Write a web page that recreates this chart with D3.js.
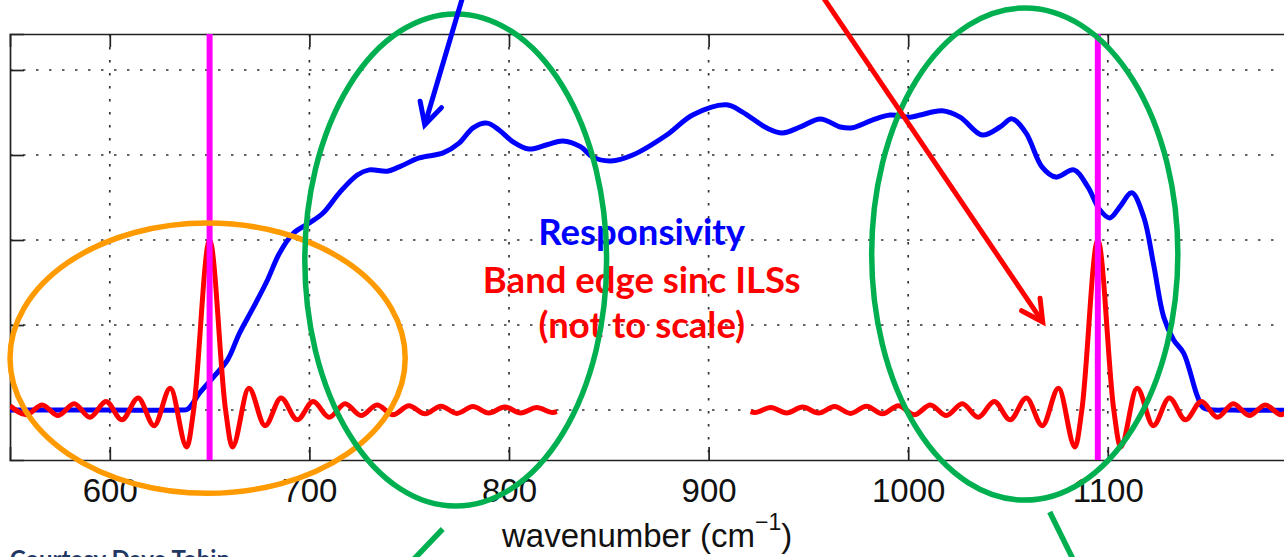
<!DOCTYPE html>
<html>
<head>
<meta charset="utf-8">
<script src="https://cdn.jsdelivr.net/npm/d3@7"></script>
<style>
  html, body { margin: 0; padding: 0; background: #ffffff; overflow: hidden; }
  svg { display: block; }
</style>
</head>
<body>
<svg id="chart" width="1284" height="557"></svg>
<script>
// ---------------- data ----------------
const xTickValues = [600, 700, 800, 900, 1000, 1100];
const yTickValues = [0, 0.2, 0.4, 0.6, 0.8];
const bandEdges = [650, 1095];

// responsivity (blue)
const respWavenumber = [550, 600, 635, 639, 645, 652, 659, 665, 672, 679, 685, 692, 700, 707, 715, 724, 730, 739, 745, 755, 767, 775, 782, 789, 795, 802, 810, 819, 827, 836, 842, 851, 862, 879, 892, 909, 917, 929, 937, 946, 956, 966, 972, 982, 991, 1001, 1006, 1017, 1026, 1037, 1046, 1052, 1059, 1067, 1074, 1083, 1090, 1096, 1101, 1106, 1112, 1118, 1123, 1128, 1133, 1138, 1145, 1148, 1163, 1200];
const respValue = [0, 0, 0, 0.002, 0.040, 0.078, 0.118, 0.181, 0.242, 0.306, 0.369, 0.416, 0.440, 0.464, 0.511, 0.553, 0.565, 0.562, 0.572, 0.593, 0.605, 0.628, 0.664, 0.675, 0.659, 0.631, 0.614, 0.624, 0.633, 0.619, 0.595, 0.586, 0.600, 0.647, 0.694, 0.718, 0.701, 0.664, 0.652, 0.666, 0.685, 0.666, 0.664, 0.682, 0.694, 0.689, 0.694, 0.704, 0.689, 0.647, 0.666, 0.685, 0.652, 0.572, 0.548, 0.565, 0.525, 0.471, 0.452, 0.478, 0.511, 0.454, 0.341, 0.219, 0.165, 0.134, 0.031, 0.005, 0, 0];

// band edge sinc ILS at 650 (red) : extrema and zero points
const sincLowWavenumber = [550, 558.1, 566.1, 574.1, 582.1, 590.1, 598.1, 606.1, 614.2, 622.2, 630.3, 638.6, 642, 650, 658, 661.4, 669.7, 677.8, 685.8, 693.9, 701.9, 709.9, 717.9, 725.9, 733.9, 741.9, 749.9, 757.9, 765.9, 773.9, 781.9, 789.9, 797.9, 805.9, 813.9, 821.9, 824];
const sincLowValue = [0.010, -0.011, 0.012, -0.013, 0.015, -0.017, 0.020, -0.023, 0.028, -0.037, 0.051, -0.087, 0, 0.4, 0, -0.087, 0.051, -0.037, 0.028, -0.023, 0.020, -0.017, 0.015, -0.013, 0.012, -0.011, 0.010, -0.009, 0.009, -0.008, 0.008, -0.007, 0.007, -0.007, 0.006, -0.006, -0.004];

// band edge sinc ILS at 1095 (red)
const sincHighWavenumber = [921, 923.1, 931.1, 939.1, 947.1, 955.1, 963.1, 971.1, 979.1, 987.1, 995.1, 1003.1, 1011.1, 1019.1, 1027.1, 1035.1, 1043.1, 1051.1, 1059.2, 1067.2, 1075.3, 1083.6, 1087, 1095, 1103, 1106.4, 1114.7, 1122.8, 1130.8, 1138.9, 1146.9, 1154.9, 1162.9, 1170.9, 1178.9, 1186.9, 1194.9, 1200];
const sincHighValue = [-0.004, -0.006, 0.006, -0.007, 0.007, -0.007, 0.008, -0.008, 0.009, -0.009, 0.010, -0.011, 0.012, -0.013, 0.015, -0.017, 0.020, -0.023, 0.028, -0.037, 0.051, -0.087, 0, 0.4, 0, -0.087, 0.051, -0.037, 0.028, -0.023, 0.020, -0.017, 0.015, -0.013, 0.012, -0.011, 0.010, 0.0];

const xLabelText = "wavenumber (cm";
const annotationLines = ["Responsivity", "Band edge sinc ILSs", "(not to scale)"];
const creditText = "Courtesy Dave Tobin";

// ---------------- layout ----------------
const svg = d3.select("#chart");
const plotLeft = 10, plotTop = 34, plotBottom = 460;
const pxPerUnit = 1.996;
const x = d3.scaleLinear().domain([550, 1200]).range([plotLeft, plotLeft + 650 * pxPerUnit]);
const y = d3.scaleLinear().domain([-0.1176, 0.8847]).range([plotBottom, plotTop]);
const plotRight = x(1200);

const tickFont = "'Liberation Sans', Arial, Helvetica, sans-serif";

// clip for data
svg.append("defs").append("clipPath").attr("id", "plotclip")
  .append("rect").attr("x", plotLeft).attr("y", plotTop)
  .attr("width", plotRight - plotLeft).attr("height", plotBottom - plotTop);

// grid
const grid = svg.append("g");
grid.selectAll("line.vg").data(xTickValues).join("line")
  .attr("x1", d => x(d)).attr("x2", d => x(d))
  .attr("y1", plotTop).attr("y2", plotBottom)
  .attr("stroke", "#333").attr("stroke-width", 1.7).attr("stroke-dasharray", "2.5,10.5");
grid.selectAll("line.hg").data(yTickValues).join("line")
  .attr("x1", plotLeft).attr("x2", plotRight)
  .attr("y1", d => y(d)).attr("y2", d => y(d))
  .attr("stroke", "#333").attr("stroke-width", 1.7).attr("stroke-dasharray", "2.5,10.5");

// axes (inward ticks, matlab-style box)
const axBottom = d3.axisBottom(x).tickValues(xTickValues).tickSize(-13).tickPadding(20).tickFormat(d3.format("d"));
const axTop = d3.axisTop(x).tickValues(xTickValues).tickSize(-13).tickFormat("");
const axLeft = d3.axisLeft(y).tickValues(yTickValues).tickSize(-14).tickFormat("");

const gB = svg.append("g").attr("transform", `translate(0,${plotBottom})`).call(axBottom);
const gT = svg.append("g").attr("transform", `translate(0,${plotTop})`).call(axTop);
const gL = svg.append("g").attr("transform", `translate(${plotLeft},0)`).call(axLeft);
[gB, gT, gL].forEach(g => {
  g.select(".domain").attr("stroke", "#222").attr("stroke-width", 1.7);
  g.selectAll(".tick line").attr("stroke", "#222").attr("stroke-width", 1.7);
});
gB.selectAll(".tick text")
  .attr("font-family", tickFont).attr("font-size", 33).attr("fill", "#111")
  .attr("dy", "0.71em").attr("y", 19);

// x label
const xl = svg.append("text")
  .attr("x", 502).attr("y", 547)
  .attr("font-family", tickFont).attr("font-size", 33).attr("fill", "#111");
xl.append("tspan").text(xLabelText);
xl.append("tspan").text("\u22121").attr("font-size", 23).attr("dy", -17);
xl.append("tspan").text(")").attr("dy", 17);

// data lines
const dataG = svg.append("g").attr("clip-path", "url(#plotclip)");
const respLine = d3.line().x(d => x(d[0])).y(d => y(d[1])).curve(d3.curveCatmullRom.alpha(0.5));
const sincLine = d3.line().x(d => x(d[0])).y(d => y(d[1])).curve(d3.curveMonotoneX);

dataG.append("path").datum(d3.zip(respWavenumber, respValue))
  .attr("d", respLine).attr("fill", "none").attr("stroke", "#0000ff").attr("stroke-width", 5)
  .attr("stroke-linejoin", "round").attr("stroke-linecap", "round");
dataG.append("path").datum(d3.zip(sincLowWavenumber, sincLowValue))
  .attr("d", sincLine).attr("fill", "none").attr("stroke", "#ff0000").attr("stroke-width", 5)
  .attr("stroke-linejoin", "round");
dataG.append("path").datum(d3.zip(sincHighWavenumber, sincHighValue))
  .attr("d", sincLine).attr("fill", "none").attr("stroke", "#ff0000").attr("stroke-width", 5)
  .attr("stroke-linejoin", "round");
dataG.selectAll("line.edge").data(bandEdges).join("line")
  .attr("x1", d => x(d)).attr("x2", d => x(d))
  .attr("y1", plotTop).attr("y2", plotBottom)
  .attr("stroke", "#ff00ff").attr("stroke-width", 6);

// text annotations (positioned in data units)
const annColors = ["#0000ff", "#ff0000", "#ff0000"];
const annBaselines = [0.388, 0.275, 0.169];
svg.selectAll("text.ann").data(annotationLines).join("text")
  .attr("x", x(866.5)).attr("y", (d, i) => y(annBaselines[i]))
  .attr("text-anchor", "middle")
  .attr("font-family", "Lato, 'Open Sans', sans-serif").attr("font-weight", 700)
  .attr("font-size", 36.5)
  .attr("fill", (d, i) => annColors[i])
  .text(d => d);

// ellipses (data units)
const ellipses = [
  { cx: 649, cy: 0.122, rx: 99, ry: 0.318, color: "#ff9b00" },
  { cx: 773.3, cy: 0.353, rx: 75.6, ry: 0.579, color: "#00b050" },
  { cx: 1058.4, cy: 0.367, rx: 76.7, ry: 0.579, color: "#00b050" }
];
svg.selectAll("ellipse.ann").data(ellipses).join("ellipse")
  .attr("cx", d => x(d.cx)).attr("cy", d => y(d.cy))
  .attr("rx", d => x(d.cx + d.rx) - x(d.cx)).attr("ry", d => y(d.cy - d.ry) - y(d.cy))
  .attr("fill", "none").attr("stroke", d => d.color).attr("stroke-width", 5.5);

// green leader lines
const leaders = [
  [[766.8, -0.28], [750.5, -0.36]],
  [[1070.9, -0.24], [1083.5, -0.36]]
];
svg.selectAll("line.lead").data(leaders).join("line")
  .attr("x1", d => x(d[0][0])).attr("y1", d => y(d[0][1]))
  .attr("x2", d => x(d[1][0])).attr("y2", d => y(d[1][1]))
  .attr("stroke", "#00b050").attr("stroke-width", 5.5);

// arrows
const arrows = [
  { from: [777, 0.975], to: [757.8, 0.671], color: "#0000ff" },
  { from: [956.8, 0.975], to: [1067.4, 0.207], color: "#ff0000" }
];
arrows.forEach(a => {
  const x1 = x(a.from[0]), y1 = y(a.from[1]), x2 = x(a.to[0]), y2 = y(a.to[1]);
  const ang = Math.atan2(y2 - y1, x2 - x1);
  const L = 24, spread = Math.PI / 6.5;
  svg.append("line").attr("x1", x1).attr("y1", y1).attr("x2", x2).attr("y2", y2)
    .attr("stroke", a.color).attr("stroke-width", 5);
  const p = d3.path();
  p.moveTo(x2 - L * Math.cos(ang - spread), y2 - L * Math.sin(ang - spread));
  p.lineTo(x2, y2);
  p.lineTo(x2 - L * Math.cos(ang + spread), y2 - L * Math.sin(ang + spread));
  svg.append("path").attr("d", p.toString()).attr("fill", "none")
    .attr("stroke", a.color).attr("stroke-width", 5).attr("stroke-linecap", "round").attr("stroke-linejoin", "miter");
});

// credit
svg.append("text").attr("x", 230).attr("y", 568).attr("text-anchor", "end")
  .attr("font-family", "Lato, 'Open Sans', sans-serif").attr("font-weight", 700)
  .attr("font-size", 24).attr("fill", "#1f3864").text(creditText);
</script>
</body>
</html>
